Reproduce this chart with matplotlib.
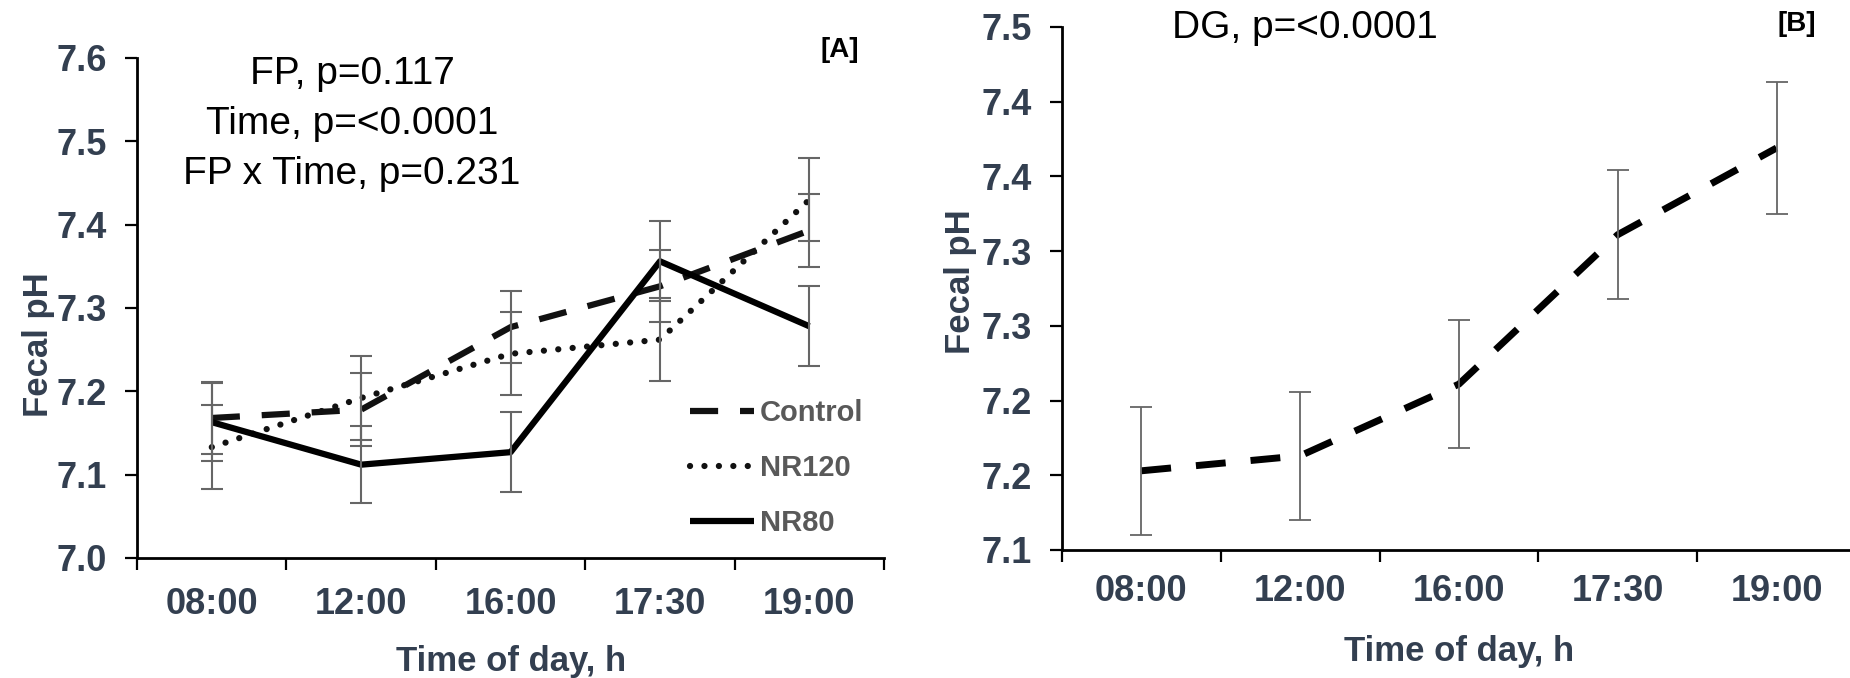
import matplotlib
matplotlib.use("Agg")
import matplotlib.pyplot as plt
import numpy as np

plt.rcParams['font.family'] = ['Liberation Sans', 'DejaVu Sans']

# sampling times and treatment means (fecal pH) with standard errors
times = ['08:00', '12:00', '16:00', '17:30', '19:00']

control = [7.168, 7.178, 7.277, 7.326, 7.393]
control_se = [0.043, 0.044, 0.043, 0.043, 0.044]
nr120 = [7.133, 7.192, 7.245, 7.262, 7.430]
nr120_se = [0.050, 0.050, 0.050, 0.050, 0.050]
nr80 = [7.163, 7.112, 7.127, 7.356, 7.278]
nr80_se = [0.047, 0.046, 0.048, 0.048, 0.048]

dg = [7.153, 7.163, 7.211, 7.311, 7.369]
dg_se = [0.043, 0.043, 0.043, 0.043, 0.044]

left_yticks = [7.0, 7.1, 7.2, 7.3, 7.4, 7.5, 7.6]
right_yticks = [7.10, 7.15, 7.20, 7.25, 7.30, 7.35, 7.40, 7.45]
right_ylabels = ['7.1', '7.2', '7.2', '7.3', '7.3', '7.4', '7.4', '7.5']

stats_a = ['FP, p=0.117', 'Time, p=<0.0001', 'FP x Time, p=0.231']
stats_b = 'DG, p=<0.0001'

navy = '#333F50'
bar_gray = '#666666'

fig = plt.figure(figsize=(18.5, 6.78), dpi=100)
ax1 = fig.add_axes([0.0741, 0.177, 0.4038, 0.7375])
ax2 = fig.add_axes([0.574, 0.1888, 0.4292, 0.7714])

x = np.arange(len(times))


def style_axis(ax, yticks, ylabels, ylim, xpad):
    ax.set_xlim(-0.5, len(times) - 0.5)
    ax.set_ylim(*ylim)
    for side in ['top', 'right']:
        ax.spines[side].set_visible(False)
    for side in ['left', 'bottom']:
        ax.spines[side].set_linewidth(2.0)
        ax.spines[side].set_color('black')
    # boundary ticks between categories, labels centred in between
    ax.set_xticks(np.arange(-0.5, len(times)), minor=False)
    ax.set_xticklabels([])
    ax.set_xticks(x, minor=True)
    ax.set_xticklabels(times, minor=True)
    ax.tick_params(axis='x', which='major', direction='out', length=8.5, width=1.6, color='black')
    ax.tick_params(axis='x', which='minor', length=0, pad=xpad, labelsize=26, labelcolor=navy)
    ax.set_yticks(yticks)
    ax.set_yticklabels(ylabels)
    ax.tick_params(axis='y', direction='out', length=8.5, width=1.6, color='black',
                   pad=13, labelsize=26, labelcolor=navy)
    for lab in ax.get_xticklabels(minor=True) + ax.get_yticklabels():
        lab.set_fontweight('bold')
    ax.set_xlabel('Time of day, h', fontsize=25, fontweight='bold', color=navy)
    ax.set_ylabel('Fecal pH', fontsize=25, fontweight='bold', color=navy)


# ---- panel A ----
lw = 4.5
ax1.plot(x, control, color='#111111', lw=lw, linestyle=(0, (4.5, 3.5)),
         dash_capstyle='butt', label='Control', zorder=3)
ax1.plot(x, nr120, color='#111111', lw=lw, linestyle=(0, (0.01, 2.3)),
         dash_capstyle='round', label='NR120', zorder=3)
ax1.plot(x, nr80, color='black', lw=lw, solid_capstyle='butt', label='NR80', zorder=3)
for vals, se in [(control, control_se), (nr120, nr120_se), (nr80, nr80_se)]:
    ax1.errorbar(x, vals, yerr=se, fmt='none', ecolor=bar_gray, elinewidth=1.5,
                 capsize=8, capthick=1.5, zorder=4)

style_axis(ax1, left_yticks, ['%.1f' % v for v in left_yticks], (7.0, 7.6), 21)
ax1.xaxis.set_label_coords(0.5, -0.174)
ax1.yaxis.set_label_coords(-0.11, 0.426)

leg = ax1.legend(loc='upper left', bbox_to_anchor=(0.74, 0.318), frameon=False,
                 borderpad=0, borderaxespad=0, handlelength=2.2, handletextpad=0.2,
                 labelspacing=0.93, prop={'size': 21, 'weight': 'bold'})
for t in leg.get_texts():
    t.set_color('#595959')

for i, line in enumerate(stats_a):
    fig.text(352 / 1850, 1 - (74 + 50 * i) / 678, line, ha='center', va='center',
             fontsize=28, color='black')
fig.text(840 / 1850, 1 - 50 / 678, '[A]', ha='center', va='center',
         fontsize=20, fontweight='bold', color='black')

# ---- panel B ----
ax2.plot(x, dg, color='black', lw=5.0, linestyle=(0, (4.3, 3.6)),
         dash_capstyle='butt', zorder=3)
ax2.errorbar(x, dg, yerr=dg_se, fmt='none', ecolor=bar_gray, elinewidth=1.3,
             capsize=8, capthick=1.3, zorder=4)

style_axis(ax2, right_yticks, right_ylabels, (7.10, 7.45), 17)
ax2.xaxis.set_label_coords(0.5, -0.163)
ax2.yaxis.set_label_coords(-0.107, 0.514)

fig.text(1305 / 1850, 1 - 28 / 678, stats_b, ha='center', va='center',
         fontsize=28, color='black')
fig.text(1797 / 1850, 1 - 24 / 678, '[B]', ha='center', va='center',
         fontsize=20, fontweight='bold', color='black')

fig.savefig('out.png', dpi=100)
